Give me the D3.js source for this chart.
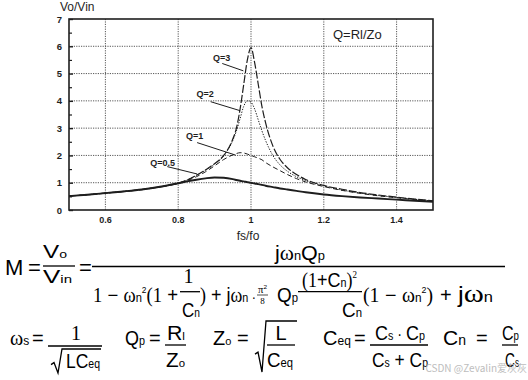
<!DOCTYPE html>
<html><head><meta charset="utf-8">
<script src="https://cdn.jsdelivr.net/npm/d3@7"></script>
<style>html,body{margin:0;padding:0;background:#fff;}svg{display:block;}</style>
</head><body>
<script>
// ---------- data ----------
const fs   = [0.5,0.55,0.6,0.65,0.7,0.75,0.8,0.825,0.85,0.875,0.9,0.925,0.95,0.96,0.97,0.98,0.99,1.0,1.01,1.02,1.03,1.04,1.06,1.08,1.1,1.125,1.15,1.2,1.25,1.3,1.35,1.4,1.45,1.5];
const q05  = [0.51,0.56,0.62,0.68,0.75,0.85,0.98,1.05,1.11,1.16,1.19,1.18,1.13,1.10,1.07,1.05,1.02,1.0,0.97,0.95,0.92,0.89,0.84,0.79,0.75,0.70,0.65,0.57,0.51,0.46,0.42,0.38,0.34,0.30];
const q1   = [0.51,0.56,0.62,0.68,0.75,0.85,0.98,1.08,1.22,1.40,1.62,1.85,2.02,2.07,2.10,2.09,2.05,2.0,1.95,1.90,1.84,1.74,1.58,1.44,1.30,1.15,1.03,0.86,0.72,0.61,0.52,0.45,0.38,0.32];
const q2   = [0.51,0.56,0.62,0.68,0.75,0.85,0.98,1.10,1.27,1.46,1.68,1.98,2.55,2.90,3.35,3.80,4.00,3.95,3.70,3.30,2.90,2.55,2.00,1.65,1.42,1.22,1.08,0.88,0.73,0.62,0.53,0.46,0.39,0.33];
const q3   = [0.51,0.56,0.62,0.68,0.75,0.85,0.98,1.10,1.27,1.47,1.70,2.00,2.60,3.00,3.70,4.60,5.50,5.95,5.40,4.60,3.80,3.20,2.35,1.85,1.55,1.30,1.12,0.90,0.76,0.64,0.55,0.47,0.40,0.34];
const seriesNames = ["Q=0.5","Q=1","Q=2","Q=3"];
const xTicks = [0.6,0.8,1,1.2,1.4];
const xTickLabels = ["0.6","0.8","1","1.2","1.4"];
const yTicks = [0,1,2,3,4,5,6,7];
const yMinor = [0.5,1.5,2.5,3.5,4.5,5.5,6.5];
// label anchor (f, v) and pointer start/end (f, v)
const labelPos = [[0.757,1.74],[0.845,2.71],[0.874,4.27],[0.919,5.60]];
const pointerFrom = [[0.770,1.59],[0.852,2.47],[0.889,3.97],[0.921,5.37]];
const pointerTo = [[0.852,1.32],[0.958,2.01],[0.970,3.64],[0.979,5.10]];

// ---------- layout ----------
const W = 528, H = 380;
const M = {l:69, r:433, t:19, b:210};
const SANS = "'Liberation Sans', Arial, Helvetica, sans-serif";
const SERIF = "'Liberation Serif', 'Times New Roman', serif";
const ink = "#1e1e1e";

const svg = d3.select("body").append("svg").attr("width", W).attr("height", H)
  .style("font-family", SANS);
svg.append("rect").attr("width", W).attr("height", H).attr("fill", "#fff");

const x = d3.scaleLinear().domain([0.5,1.5]).range([M.l, M.r]);
const y = d3.scaleLinear().domain([0,7]).range([M.b, M.t]);

// grid
const grid = svg.append("g").attr("stroke", "#3a3a3a").attr("stroke-width", 0.85).attr("stroke-dasharray", "1.2,1.2");
grid.selectAll(".gx").data(xTicks).join("line")
  .attr("x1", d => x(d)).attr("x2", d => x(d)).attr("y1", M.t).attr("y2", M.b);
grid.selectAll(".gy").data(yTicks.filter(d => d > 0 && d < 7)).join("line")
  .attr("y1", d => y(d)).attr("y2", d => y(d)).attr("x1", M.l).attr("x2", M.r);

// axes (inward ticks)
const yAxis = d3.axisRight(y).tickValues(yTicks).tickSize(4).tickFormat("");
const gy = svg.append("g").attr("transform", `translate(${M.l},0)`).call(yAxis);
gy.select(".domain").remove();
gy.selectAll("line").attr("stroke", ink).attr("stroke-width", 1.4);
const yAxisMinor = d3.axisRight(y).tickValues(yMinor).tickSize(3).tickFormat("");
const gym = svg.append("g").attr("transform", `translate(${M.l},0)`).call(yAxisMinor);
gym.select(".domain").remove();
gym.selectAll("line").attr("stroke", ink).attr("stroke-width", 1.2);

// y labels
svg.append("g").selectAll("text").data(yTicks).join("text")
  .attr("x", M.l - 7).attr("y", d => y(d) + 3.5).attr("text-anchor", "end")
  .attr("font-size", 9.5).attr("font-weight", "bold").attr("fill", ink).text(d => d);
// x labels
svg.append("g").selectAll("text").data(xTicks).join("text")
  .attr("x", d => x(d)).attr("y", 223).attr("text-anchor", "middle")
  .attr("font-size", 9).attr("font-weight", "bold").attr("fill", ink)
  .text((d,i) => xTickLabels[i]);

// frame
svg.append("rect").attr("x", M.l).attr("y", M.t).attr("width", M.r - M.l).attr("height", M.b - M.t)
  .attr("fill", "none").attr("stroke", ink).attr("stroke-width", 1.6);

// curves
const styles = [
  {w:1.9, dash:null},
  {w:1.0, dash:"5,3"},
  {w:1.0, dash:"1.3,1.4"},
  {w:1.2, dash:"8,2"}
];
const allSeries = [q05, q1, q2, q3];
const line = d3.line().x((d,i) => x(fs[i])).y(d => y(d)).curve(d3.curveMonotoneX);
allSeries.forEach((s, k) => {
  svg.append("path").datum(s).attr("d", line).attr("fill", "none")
    .attr("stroke", ink).attr("stroke-width", styles[k].w)
    .attr("stroke-dasharray", styles[k].dash);
});

// curve labels + pointers
seriesNames.forEach((n, k) => {
  svg.append("line")
    .attr("x1", x(pointerFrom[k][0])).attr("y1", y(pointerFrom[k][1]))
    .attr("x2", x(pointerTo[k][0])).attr("y2", y(pointerTo[k][1]))
    .attr("stroke", ink).attr("stroke-width", 1);
  svg.append("text").attr("x", x(labelPos[k][0])).attr("y", y(labelPos[k][1]) + 3.3)
    .attr("text-anchor", "middle").attr("font-size", 9).attr("font-weight", "bold")
    .attr("fill", ink).text(n);
});

// titles
svg.append("text").attr("x", 60).attr("y", 11).attr("font-size", 12).attr("fill", ink).text("Vo/Vin");
svg.append("text").attr("x", 248).attr("y", 240).attr("text-anchor", "middle").attr("font-size", 12).attr("fill", ink).text("fs/fo");
svg.append("text").attr("x", 333).attr("y", 39).attr("font-size", 13).attr("fill", ink).text("Q=Rl/Zo");

// ---------- formulas ----------
const F = svg.append("g").attr("fill", "#000");
function rich(xp, yp, runs, anchor, width) {
  const t = F.append("text").attr("x", xp).attr("y", yp).attr("text-anchor", anchor || "start");
  if (width) t.attr("textLength", width).attr("lengthAdjust", "spacingAndGlyphs");
  let cur = 0;
  runs.forEach(r => {
    const want = r.dy || 0;
    t.append("tspan").attr("dy", want - cur)
      .attr("font-family", r.f === "s" ? SERIF : SANS)
      .attr("font-size", r.z).text(r.t);
    cur = want;
  });
  return t;
}
function hline(x1, x2, yy, w) {
  F.append("line").attr("x1", x1).attr("x2", x2).attr("y1", yy).attr("y2", yy)
    .attr("stroke", "#000").attr("stroke-width", w || 1.3);
}
function sqrtSign(x0, yTop, yBot, xEnd) {
  const ym = yBot - (yBot - yTop) * 0.35;
  F.append("path").attr("d", `M${x0},${ym} L${x0+3},${ym-2} L${x0+7},${yBot} L${x0+11},${yTop} L${xEnd},${yTop}`)
    .attr("fill", "none").attr("stroke", "#000").attr("stroke-width", 1.3);
}
const eq = (xp, yp, z) => rich(xp, yp, [{t:"=", z: z || 20}]);

// Row 1: M = Vo/Vin = ...
rich(5, 275, [{t:"M", z:22}]);
eq(28, 275, 22);
rich(43, 258, [{t:"V", z:19}, {t:"o", z:11}], "start", 24);
hline(43, 75, 266);
rich(43, 283, [{t:"V", z:19}, {t:"in", z:11}], "start", 29);
eq(79, 275, 22);
hline(92, 505, 266.5);
rich(275, 260, [{t:"j", z:20}, {t:"ω", z:20, f:"s"}, {t:"n", z:12}, {t:"Q", z:20}, {t:"p", z:12}], "start", 50);

// denominator
const DB = 302;
rich(93, DB, [{t:"1", z:20, f:"s"}, {t:" − ", z:20}, {t:"ω", z:20, f:"s"}, {t:"n", z:12}, {t:"2", z:9, dy:-9}, {t:"(1", z:20, f:"s"}, {t:" +", z:20}], "start", 85);
rich(188.5, 283, [{t:"1", z:20, f:"s"}], "middle");
hline(180, 200, 291.7);
rich(182, 317, [{t:"C", z:20}, {t:"n", z:12}], "start", 18);
rich(200, DB, [{t:")", z:20, f:"s"}, {t:" + ", z:20}, {t:"j", z:20}, {t:"ω", z:20, f:"s"}, {t:"n", z:12}, {t:" ·", z:14}], "start", 56);
rich(258, 292.5, [{t:"π", z:10, f:"s"}, {t:"2", z:6, dy:-4}], "start", 9);
F.append("line").attr("x1", 257).attr("x2", 268).attr("y1", 295).attr("y2", 295).attr("stroke", "#000").attr("stroke-width", 0.7);
rich(262.5, 303.5, [{t:"8", z:9, f:"s"}], "middle");
rich(277, DB, [{t:"Q", z:20}, {t:"p", z:12}], "start", 21);
rich(302, 287, [{t:"(1", z:20, f:"s"}, {t:"+", z:20}, {t:"C", z:20}, {t:"n", z:12}, {t:")", z:20, f:"s"}, {t:"2", z:10, dy:-9, f:"s"}], "start", 55);
hline(298, 362, 291.7);
rich(342, 317, [{t:"C", z:20}, {t:"n", z:12}], "start", 20);
rich(363, DB, [{t:"(1", z:20, f:"s"}, {t:" − ", z:20}, {t:"ω", z:20, f:"s"}, {t:"n", z:12}, {t:"2", z:9, dy:-9}, {t:")", z:20, f:"s"}], "start", 70);
rich(440, DB, [{t:"+", z:20}]);
rich(458, DB, [{t:"j", z:22}, {t:"ω", z:26, f:"s"}, {t:"n", z:14}], "start", 35);

// Row 2
const R2 = 345;
rich(10, R2, [{t:"ω", z:20, f:"s"}, {t:"s", z:12}]);
eq(32, R2);
rich(76, 340, [{t:"1", z:20, f:"s"}], "middle");
hline(48, 102, 346);
sqrtSign(51, 349, 373, 101);
rich(66, 368, [{t:"LC", z:20}, {t:"eq", z:12}]
, "start", 34);

rich(125, R2, [{t:"Q", z:20}, {t:"p", z:12}], "start", 20);
eq(149, R2);
rich(167, 340, [{t:"R", z:20}, {t:"l", z:11}], "start", 18);
hline(165, 186, 345);
rich(166, 367, [{t:"Z", z:20}, {t:"o", z:11}], "start", 19);

rich(213, R2, [{t:"Z", z:20}, {t:"o", z:11}]);
eq(237, R2);
sqrtSign(255, 321, 372, 297);
rich(281, 340, [{t:"L", z:20}], "middle");
hline(267, 295, 345);
rich(267, 367, [{t:"C", z:20}, {t:"eq", z:12}], "start", 26);

rich(323, R2, [{t:"C", z:20}, {t:"eq", z:12}]);
eq(354, R2);
rich(375, 340, [{t:"C", z:20}, {t:"s", z:12}, {t:" · ", z:16}, {t:"C", z:20}, {t:"p", z:12}], "start", 50);
hline(370, 428, 345);
rich(372, 367, [{t:"C", z:20}, {t:"s", z:12}, {t:" + ", z:20}, {t:"C", z:20}, {t:"p", z:12}], "start", 56);

rich(443, R2, [{t:"C", z:21}, {t:"n", z:14}]);
eq(476, R2);
rich(502, 340, [{t:"C", z:20}, {t:"p", z:12}], "start", 17);
hline(502, 518, 345);
rich(505, 367, [{t:"C", z:20}, {t:"s", z:12}], "start", 14);

// watermark
svg.append("text").attr("x", 527).attr("y", 372).attr("text-anchor", "end")
  .attr("font-family", "'Noto Sans CJK SC', 'Noto Sans', sans-serif").attr("font-size", 10)
  .attr("fill", "#bdbdbd").text("CSDN @Zevalin爱灰灰");
</script>
</body></html>
